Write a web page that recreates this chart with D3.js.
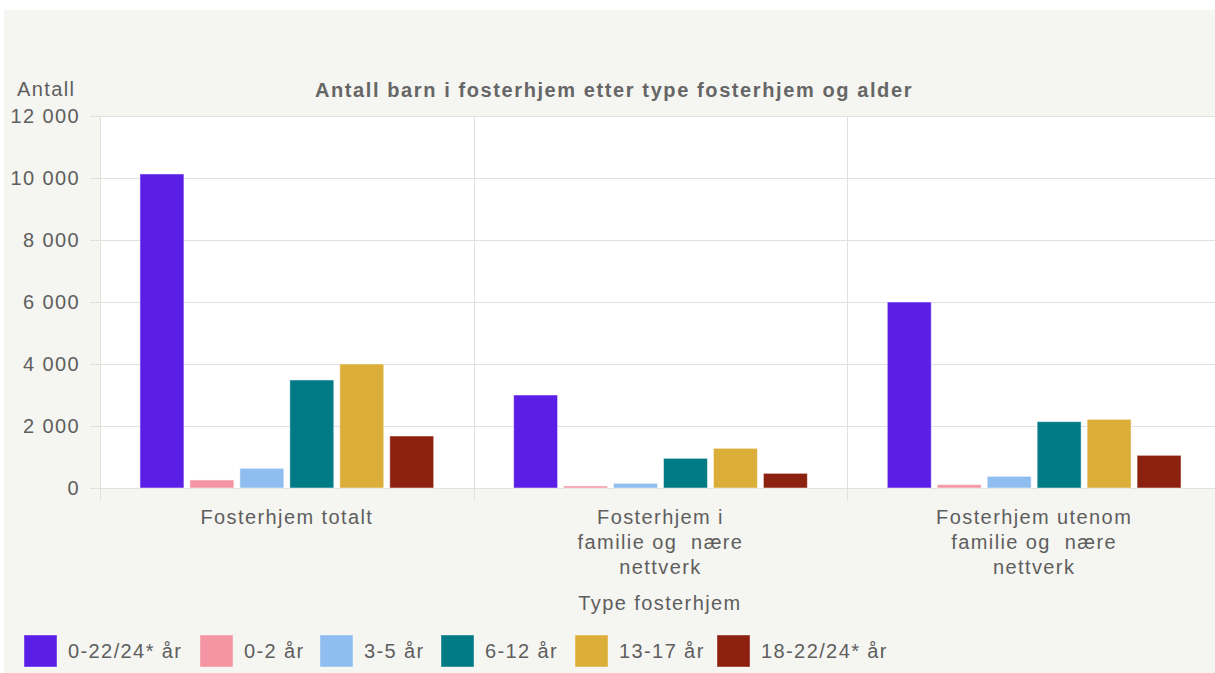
<!DOCTYPE html>
<html>
<head>
<meta charset="utf-8">
<script src="https://cdn.jsdelivr.net/npm/d3@7"></script>
<style>
  body { margin: 0; background: #fff; }
  svg text { font-family: "Liberation Sans", Arial, sans-serif; fill: #5e5e5e; letter-spacing: 1.4px; }
</style>
</head>
<body>
<div id="chart"></div>
<script>
// Antall barn i fosterhjem etter type og alder

var categories = [
    ["Fosterhjem totalt"],
    ["Fosterhjem i", "familie og  nære", "nettverk"],
    ["Fosterhjem utenom", "familie og  nære", "nettverk"]
];
var seriesNames = ["0-22/24* år", "0-2 år", "3-5 år", "6-12 år", "13-17 år", "18-22/24* år"];
var seriesColors = ["#5b1ee6", "#f595a3", "#8fbdf0", "#007a85", "#dbae39", "#8c210f"];

var v_all = [10130, 3000, 6000];
var v_0_2 = [260, 65, 107];
var v_3_5 = [635, 150, 376];
var v_6_12 = [3485, 957, 2140];
var v_13_17 = [4000, 1280, 2215];
var v_18_22 = [1677, 473, 1054];
var seriesValues = [v_all, v_0_2, v_3_5, v_6_12, v_13_17, v_18_22];

var yTicks = [0, 2000, 4000, 6000, 8000, 10000, 12000];

var WIDTH = 1215;
var HEIGHT = 673;
var LEFT = 100;
var RIGHT = 1221;
var TOP = 116;
var BOTTOM = 488;
var FS = 20;

var svg = d3.select("#chart").append("svg")
    .attr("width", WIDTH)
    .attr("height", HEIGHT);

// background panel
svg.append("rect")
    .attr("x", 4).attr("y", 10)
    .attr("width", WIDTH - 4).attr("height", HEIGHT - 10)
    .attr("fill", "#f5f5f1");

svg.append("rect")
    .attr("x", LEFT).attr("y", TOP)
    .attr("width", RIGHT - LEFT).attr("height", BOTTOM - TOP)
    .attr("fill", "#fff");

var x = d3.scaleBand()
    .domain(d3.range(categories.length))
    .range([LEFT, RIGHT]);

var xInner = d3.scaleBand()
    .domain(d3.range(seriesNames.length))
    .range([0, x.bandwidth()])
    .paddingInner(0.12)
    .paddingOuter(0.8);

var y = d3.scaleLinear()
    .domain([0, 12000])
    .range([BOTTOM, TOP]);

var fmt = function(d) { return d3.format(",")(d).replace(/,/g, " "); };

// grid lines + y labels
svg.append("g").selectAll("line")
    .data(yTicks)
    .enter().append("line")
    .attr("x1", 90).attr("x2", RIGHT)
    .attr("y1", function(d) { return Math.round(y(d)) + 0.5; })
    .attr("y2", function(d) { return Math.round(y(d)) + 0.5; })
    .attr("stroke", "#e0e0e0");

svg.append("g").selectAll("text")
    .data(yTicks)
    .enter().append("text")
    .attr("x", 80)
    .attr("y", function(d) { return y(d) + 7; })
    .attr("text-anchor", "end")
    .attr("font-size", FS)
    .text(fmt);

// category separators
var seps = d3.range(categories.length).map(function(i) { return x(i); });
svg.append("g").selectAll("line")
    .data(seps)
    .enter().append("line")
    .attr("x1", function(d) { return Math.round(d) + 0.5; })
    .attr("x2", function(d) { return Math.round(d) + 0.5; })
    .attr("y1", TOP).attr("y2", 500)
    .attr("stroke", "#e0e0e0");

// bars
seriesValues.forEach(function(vals, s) {
    svg.append("g").selectAll("rect")
        .data(vals)
        .enter().append("rect")
        .attr("x", function(d, i) { return x(i) + xInner(s); })
        .attr("y", function(d) { return y(d); })
        .attr("width", xInner.bandwidth())
        .attr("height", function(d) { return BOTTOM - y(d); })
        .attr("fill", seriesColors[s])
        .attr("stroke", "#ffffff")
        .attr("stroke-opacity", 0.5)
        .attr("stroke-width", 1);
});

// category labels
categories.forEach(function(lines, i) {
    var t = svg.append("text")
        .attr("text-anchor", "middle")
        .attr("font-size", FS)
        .attr("y", 524)
        .attr("xml:space", "preserve")
        .style("white-space", "pre");
    lines.forEach(function(l, k) {
        t.append("tspan")
            .attr("x", x(i) + x.bandwidth() / 2)
            .attr("dy", k == 0 ? 0 : 25)
            .text(l);
    });
});

// axis titles
svg.append("text")
    .attr("x", 660).attr("y", 610)
    .attr("text-anchor", "middle")
    .attr("font-size", FS)
    .text("Type fosterhjem");

svg.append("text")
    .attr("x", 17).attr("y", 96)
    .attr("font-size", FS)
    .text("Antall");

svg.append("text")
    .attr("x", 614).attr("y", 97)
    .attr("text-anchor", "middle")
    .attr("font-size", FS)
    .attr("font-weight", "bold")
    .style("fill", "#666")
    .style("letter-spacing", "1.6px")
    .text("Antall barn i fosterhjem etter type fosterhjem og alder");

// legend
var legendX = [24, 200, 320, 441, 575, 717];
var legend = svg.append("g").selectAll("g")
    .data(seriesNames)
    .enter().append("g")
    .attr("transform", function(d, i) { return "translate(" + legendX[i] + ", 635)"; });

legend.append("rect")
    .attr("width", 33).attr("height", 32)
    .attr("fill", function(d, i) { return seriesColors[i]; })
    .attr("stroke", "#ffffff")
    .attr("stroke-opacity", 0.4);

legend.append("text")
    .attr("x", 44).attr("y", 23)
    .attr("font-size", FS)
    .text(function(d) { return d; });
</script>
</body>
</html>
